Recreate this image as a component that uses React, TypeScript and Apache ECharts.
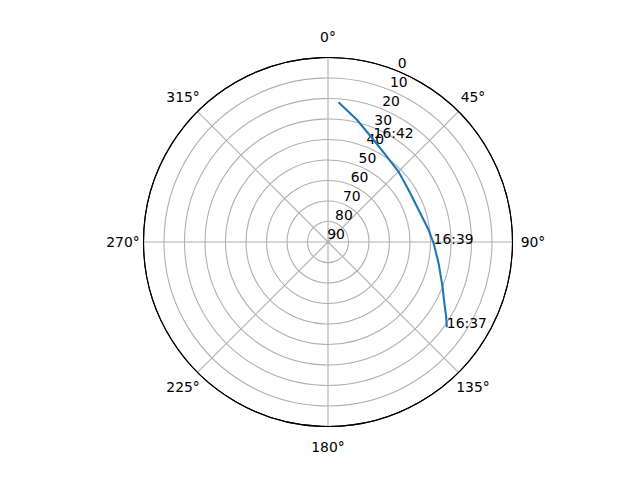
import React, { useEffect, useRef } from "react";
import * as echarts from "echarts";

// satellite pass, in time order (azimuth deg clockwise from north, elevation deg)
const azimuth = [125.7, 122.2, 117.7, 111.2, 100.8, 90.6, 83.1, 70.4, 57.0, 45.0, 34.6, 24.0, 13.3, 4.3];
const elevation = [18.6, 21.9, 25.9, 30.1, 35.1, 38.5, 40.6, 43.1, 43.2, 41.4, 39.4, 35.4, 28.7, 21.6];

// time annotations along the pass
const timeLabels = ["16:37", "16:39", "16:42"];
const labelAz = [125.7, 90.6, 23.5];
const labelEl = [18.6, 38.5, 34.2];

// azimuth tick labels
const azTicks = [0, 45, 90, 135, 180, 225, 270, 315];

const FONT = "DejaVu Sans";
const GRID = "#b0b0b0";

const App: React.FC = () => {
  const chartRef = useRef<HTMLDivElement>(null);

  useEffect(() => {
    if (!chartRef.current) return;
    const chart = echarts.init(chartRef.current, undefined, { renderer: "svg" });

    const center = [328, 242];
    const radius = 184.5;

    const text = { color: "#000000", fontSize: 13.9, fontFamily: FONT, opacity: 1 };

    const option: echarts.EChartsOption = {
      animation: false,
      backgroundColor: "#ffffff",
      polar: [
        { center, radius },
        { center, radius },
        { center, radius: 205 },
      ],
      angleAxis: [
        {
          polarIndex: 0,
          type: "value",
          min: 0,
          max: 360,
          interval: 45,
          startAngle: 90,
          clockwise: true,
          axisLine: { lineStyle: { color: "#000000", width: 1.1 } },
          axisTick: { show: false },
          axisLabel: { show: false },
          splitLine: { lineStyle: { color: GRID, width: 1.1 } },
        },
        {
          polarIndex: 1,
          type: "value",
          min: 0,
          max: 360,
          startAngle: 67.5,
          clockwise: true,
          show: false,
        },
        {
          polarIndex: 2,
          type: "value",
          min: 0,
          max: 360,
          startAngle: 90,
          clockwise: true,
          show: false,
        },
      ],
      radiusAxis: [
        {
          polarIndex: 0,
          type: "value",
          min: 0,
          max: 90,
          interval: 10,
          inverse: true,
          axisLine: { show: false },
          axisTick: { show: false },
          axisLabel: { show: false },
          splitLine: {
            lineStyle: {
              color: ["#000000", GRID, GRID, GRID, GRID, GRID, GRID, GRID, GRID, GRID],
              width: 1.1,
            },
          },
        },
        {
          polarIndex: 1,
          type: "value",
          min: 0,
          max: 90,
          interval: 10,
          inverse: true,
          axisLine: { show: false },
          axisTick: { show: false },
          splitLine: { show: false },
          axisLabel: {
            margin: 3,
            align: "left",
            verticalAlign: "bottom",
            padding: [0, 0, 0, 2],
            ...text,
          },
        },
        {
          polarIndex: 2,
          type: "value",
          min: 0,
          max: 1,
          show: false,
        },
      ],
      series: [
        {
          type: "line",
          coordinateSystem: "polar",
          polarIndex: 0,
          data: azimuth.map((a, i) => [elevation[i], a]),
          showSymbol: false,
          lineStyle: { color: "#1f77b4", width: 2.1 },
          z: 3,
        },
        {
          type: "scatter",
          coordinateSystem: "polar",
          polarIndex: 0,
          symbolSize: 0,
          itemStyle: { opacity: 1 },
          data: timeLabels.map((t, i) => ({ name: t, value: [labelEl[i], labelAz[i]] })),
          label: {
            show: true,
            formatter: "{b}",
            position: [0, 0],
            align: "left",
            verticalAlign: "bottom",
            offset: [0, 3],
            ...text,
          },
          z: 4,
        },
        {
          type: "scatter",
          coordinateSystem: "polar",
          polarIndex: 2,
          symbolSize: 0,
          itemStyle: { opacity: 1 },
          data: azTicks.map((a) => ({ name: a + "°", value: [1, a] })),
          label: {
            show: true,
            formatter: "{b}",
            position: [0, 0],
            align: "center",
            verticalAlign: "middle",
            ...text,
          },
          z: 4,
        },
      ],
    };

    chart.setOption(option);
    return () => chart.dispose();
  }, []);

  return (
    <div
      ref={chartRef}
      style={{ position: "fixed", left: 0, top: 0, width: "640px", height: "480px" }}
    />
  );
};

export default App;
